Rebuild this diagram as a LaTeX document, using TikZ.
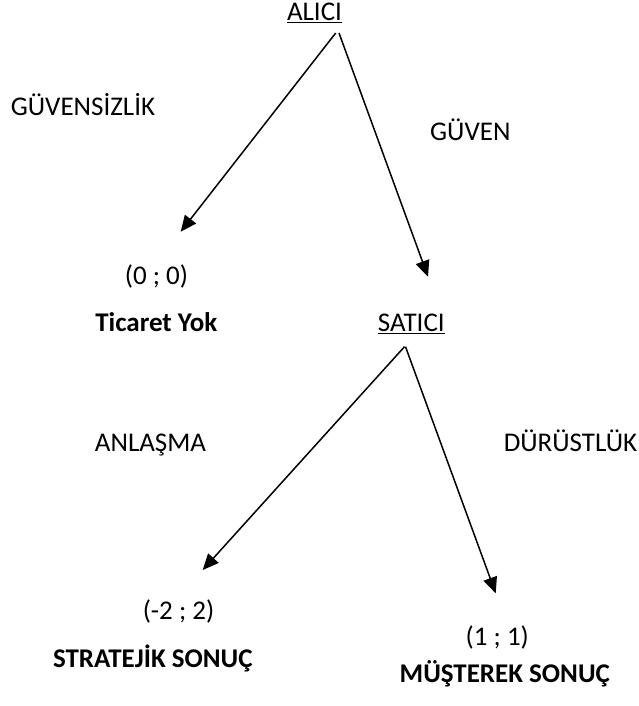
\documentclass[tikz,border=0pt]{standalone}
\usepackage{fontspec}
\setmainfont{Carlito}
\usetikzlibrary{arrows.meta}
\begin{document}
\begin{tikzpicture}[x=1pt,y=-1pt,
  lbl/.style={anchor=base,inner sep=0pt,font=\fontsize{27}{32}\selectfont},
  blbl/.style={lbl,font=\fontsize{27}{32}\selectfont\bfseries},
  arr/.style={line width=1.5pt,-{Triangle[length=16pt,width=14pt]}}]
\useasboundingbox (0,0) rectangle (639,706);
\node[lbl] (alici) at (314.5,20.7) {\underline{ALICI}};
\node[lbl] (guvensizlik) at (83,116) {GÜVENSİZLİK};
\node[lbl] (guven) at (470.3,140) {GÜVEN};
\node[lbl] (p00) at (156.5,284) {(0 ; 0)};
\node[blbl] (ticaret) at (156.3,331.7) {Ticaret Yok};
\node[lbl] (satici) at (411.3,331.7) {\underline{SATICI}};
\node[lbl] (anlasma) at (150.5,451.7) {ANLAŞMA};
\node[lbl] (durustluk) at (570.5,451.7) {DÜRÜSTLÜK};
\node[lbl] (p22) at (178.5,619) {(-2 ; 2)};
\node[blbl] (strat) at (152.8,667) {STRATEJİK SONUÇ};
\node[lbl] (p11) at (497.3,645) {(1 ; 1)};
\node[blbl] (must) at (504.8,682.7) {MÜŞTEREK SONUÇ};
\coordinate (a1s) at (335.7,33);
\coordinate (a2s) at (339,33);
\coordinate (a1e) at (180.7,231.7);
\coordinate (a2e) at (428,276.7);
\coordinate (b1s) at (404.5,346.7);
\coordinate (b2s) at (405.5,346.7);
\coordinate (b1e) at (202.7,570);
\coordinate (b2e) at (495.7,593.3);
\draw[arr] (a1s) -- (a1e);
\draw[arr] (a2s) -- (a2e);
\draw[arr] (b1s) -- (b1e);
\draw[arr] (b2s) -- (b2e);
\end{tikzpicture}
\end{document}
